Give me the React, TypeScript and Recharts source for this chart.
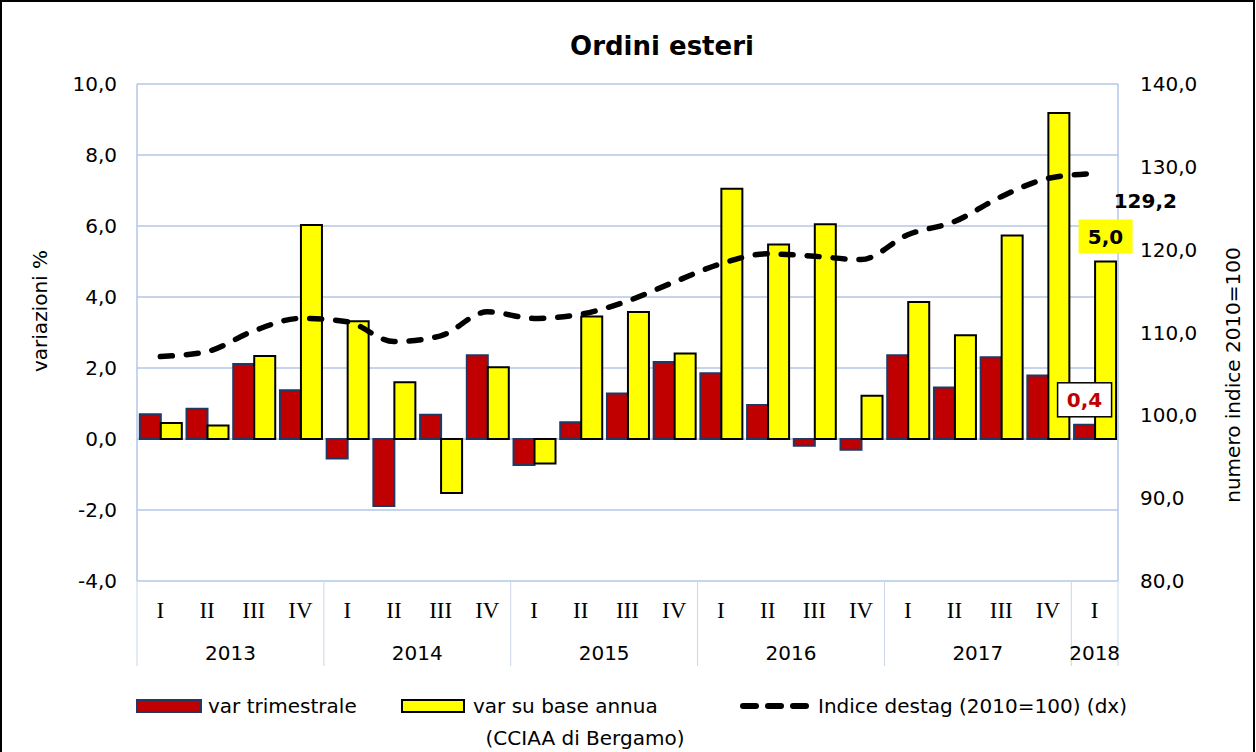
import React from 'react';
import {
  ComposedChart,
  Bar,
  Line,
  XAxis,
  YAxis,
  CartesianGrid,
  LabelList,
} from 'recharts';

// quarters and years (2013 I .. 2018 I)
const quarters = [
  'I', 'II', 'III', 'IV',
  'I', 'II', 'III', 'IV',
  'I', 'II', 'III', 'IV',
  'I', 'II', 'III', 'IV',
  'I', 'II', 'III', 'IV',
  'I',
];
const years = [
  '2013', '2013', '2013', '2013',
  '2014', '2014', '2014', '2014',
  '2015', '2015', '2015', '2015',
  '2016', '2016', '2016', '2016',
  '2017', '2017', '2017', '2017',
  '2018',
];

// variazioni % (asse sx)
const varTrimestrale = [
  0.7, 0.85, 2.11, 1.37,
  -0.55, -1.89, 0.68, 2.36,
  -0.73, 0.47, 1.28, 2.17,
  1.85, 0.96, -0.19, -0.3,
  2.36, 1.45, 2.3, 1.79,
  0.4,
];
const varAnnua = [
  0.45, 0.38, 2.34, 6.03,
  3.32, 1.6, -1.52, 2.02,
  -0.69, 3.45, 3.58, 2.41,
  7.05, 5.48, 6.05, 1.22,
  3.86, 2.92, 5.73, 9.18,
  5.0,
];

// numero indice 2010=100 (asse dx)
const indiceDestag = [
  107.1, 107.7, 110.2, 111.7,
  111.3, 108.9, 109.6, 112.5,
  111.7, 112.2, 113.8, 116.1,
  118.3, 119.5, 119.2, 118.8,
  121.8, 123.4, 126.4, 128.6,
  129.2,
];

const leftTicks = [-4, -2, 0, 2, 4, 6, 8, 10];
const rightTicks = [80, 90, 100, 110, 120, 130, 140];

const data = quarters.map((q, i) => ({
  key: `${years[i]}-${q}`,
  trim: varTrimestrale[i],
  annua: varAnnua[i],
  indice: indiceDestag[i],
}));

const FONT = '"DejaVu Sans", Verdana, sans-serif';
const GRID = '#b4c6e7';
const SEP = '#c9d6ea';
const LAST = quarters.length - 1;
const Q_AXIS_H = 40;
const Y_AXIS_H = 45;

const fmt = (v: number) => v.toFixed(1).replace('.', ',');

const QuarterTick = (props: any) => {
  const { x, y, payload, index } = props;
  const off = payload?.offset ?? 0;
  const sepH = Q_AXIS_H + Y_AXIS_H;
  return (
    <g>
      {quarters[index] === 'I' && (
        <line x1={x - off} x2={x - off} y1={y} y2={y + sepH} stroke={SEP} strokeWidth={1} />
      )}
      {index === LAST && (
        <line x1={x + off} x2={x + off} y1={y} y2={y + sepH} stroke={SEP} strokeWidth={1} />
      )}
      <text x={x} y={y + 37} textAnchor="middle" fontFamily='"Liberation Serif", serif' fontSize={23} fill="#000">
        {quarters[index]}
      </text>
    </g>
  );
};

const YearTick = (props: any) => {
  const { x, y, payload, index } = props;
  if (quarters[index] !== 'I') return <g />;
  const off = payload?.offset ?? 0;
  const count = years.filter((yy) => yy === years[index]).length;
  const cx = x - off + count * off;
  return (
    <text x={cx} y={y + 39} textAnchor="middle" fontFamily={FONT} fontSize={20} fill="#000">
      {years[index]}
    </text>
  );
};

const IndiceLabel = (props: any) => {
  const { x, y, value, index } = props;
  if (index !== LAST) return null;
  return (
    <text x={x + 19} y={y + 35} fontFamily={FONT} fontSize={20} fontWeight="bold" fill="#000">
      {fmt(value)}
    </text>
  );
};

const AnnuaLabel = (props: any) => {
  const { x, y, width, value, index } = props;
  if (index !== LAST) return null;
  const cx = x + width / 2;
  return (
    <g>
      <rect x={cx - 27} y={y - 42} width={54} height={34} fill="#ffff00" />
      <text x={cx} y={y - 18} textAnchor="middle" fontFamily={FONT} fontSize={20} fontWeight="bold" fill="#000">
        {fmt(value)}
      </text>
    </g>
  );
};

const TrimLabel = (props: any) => {
  const { x, y, width, value, index } = props;
  if (index !== LAST) return null;
  const cx = x + width / 2;
  return (
    <g>
      <rect x={cx - 27} y={y - 42} width={54} height={34} fill="#fff" stroke="#000" strokeWidth={1.5} />
      <text x={cx} y={y - 18} textAnchor="middle" fontFamily={FONT} fontSize={20} fontWeight="bold" fill="#c00000">
        {fmt(value)}
      </text>
    </g>
  );
};

export default function App() {
  return (
    <div style={{ position: 'absolute', left: 0, top: 0, width: 1256, height: 752, background: '#fff', fontFamily: FONT }}>
      <ComposedChart
        width={1256}
        height={752}
        data={data}
        margin={{ top: 84, left: 37, right: 38, bottom: 86 }}
        barCategoryGap="6%"
        barGap={0}
      >
        <CartesianGrid yAxisId="left" vertical={false} stroke={GRID} strokeWidth={1.5} />
        <XAxis
          xAxisId="q"
          dataKey="key"
          height={Q_AXIS_H}
          interval={0}
          axisLine={false}
          tickLine={false}
          tickSize={0}
          tickMargin={0}
          tick={<QuarterTick />}
        />
        <XAxis
          xAxisId="y"
          dataKey="key"
          height={Y_AXIS_H}
          interval={0}
          axisLine={false}
          tickLine={false}
          tickSize={0}
          tickMargin={0}
          tick={<YearTick />}
        />
        <YAxis
          yAxisId="left"
          orientation="left"
          width={100}
          domain={[-4, 10]}
          ticks={leftTicks}
          interval={0}
          tickFormatter={fmt}
          axisLine={{ stroke: GRID, strokeWidth: 1.5 }}
          tickLine={false}
          tickSize={0}
          tickMargin={20}
          tick={{ fontFamily: FONT, fontSize: 20, fill: '#000' }}
        />
        <YAxis
          yAxisId="right"
          orientation="right"
          width={100}
          domain={[80, 140]}
          ticks={rightTicks}
          interval={0}
          tickFormatter={fmt}
          axisLine={{ stroke: GRID, strokeWidth: 1.5 }}
          tickLine={false}
          tickSize={0}
          tickMargin={22}
          tick={{ fontFamily: FONT, fontSize: 20, fill: '#000', textAnchor: 'start' }}
        />
        <Bar
          xAxisId="q"
          yAxisId="left"
          dataKey="trim"
          name="var trimestrale"
          fill="#c00000"
          stroke="#1f3864"
          strokeWidth={2}
          isAnimationActive={false}
        >
          <LabelList dataKey="trim" content={<TrimLabel />} />
        </Bar>
        <Bar
          xAxisId="q"
          yAxisId="left"
          dataKey="annua"
          name="var su base annua"
          fill="#ffff00"
          stroke="#000"
          strokeWidth={2}
          isAnimationActive={false}
        >
          <LabelList dataKey="annua" content={<AnnuaLabel />} />
        </Bar>
        <Line
          xAxisId="q"
          yAxisId="right"
          type="monotone"
          dataKey="indice"
          name="Indice destag (2010=100) (dx)"
          stroke="#000"
          strokeWidth={5.5}
          strokeDasharray="12 14"
          strokeLinecap="round"
          dot={false}
          activeDot={false}
          isAnimationActive={false}
        >
          <LabelList dataKey="indice" content={<IndiceLabel />} />
        </Line>
      </ComposedChart>

      <svg
        width={1256}
        height={752}
        style={{ position: 'absolute', left: 0, top: 0, pointerEvents: 'none' }}
      >
        <rect x={1} y={1} width={1253} height={760} fill="none" stroke="#000" strokeWidth={2} />
        <text x={662} y={55} textAnchor="middle" fontFamily={FONT} fontSize={26} fontWeight="bold" fill="#000">
          Ordini esteri
        </text>
        <text
          x={40}
          y={311}
          dy="0.35em"
          textAnchor="middle"
          transform="rotate(-90 40 311)"
          fontFamily={FONT}
          fontSize={20}
          fill="#000"
        >
          variazioni %
        </text>
        <text
          x={1233}
          y={375}
          dy="0.35em"
          textAnchor="middle"
          transform="rotate(-90 1233 375)"
          fontFamily={FONT}
          fontSize={20}
          fill="#000"
        >
          numero indice 2010=100
        </text>

        {/* legenda */}
        <rect x={137} y={700} width={64} height={12} fill="#c00000" stroke="#1f3864" strokeWidth={2} />
        <text x={208} y={713} fontFamily={FONT} fontSize={20} fill="#000">var trimestrale</text>
        <rect x={402} y={700} width={62} height={12} fill="#ffff00" stroke="#000" strokeWidth={2} />
        <text x={473} y={713} fontFamily={FONT} fontSize={20} fill="#000">var su base annua</text>
        <line x1={743} x2={806} y1={706} y2={706} stroke="#000" strokeWidth={6} strokeDasharray="13 12" strokeLinecap="round" />
        <text x={818} y={713} fontFamily={FONT} fontSize={20} fill="#000">Indice destag (2010=100) (dx)</text>
        <text x={585} y={745} textAnchor="middle" fontFamily={FONT} fontSize={20} fill="#000">(CCIAA di Bergamo)</text>
      </svg>
    </div>
  );
}
